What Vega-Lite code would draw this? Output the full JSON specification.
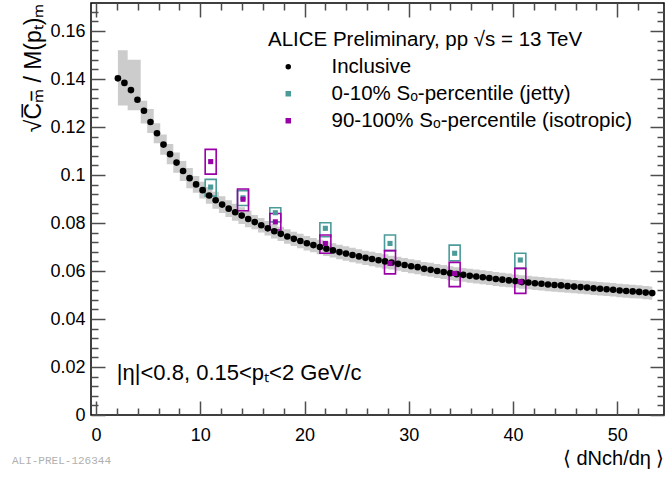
{
  "$schema": "https://vega.github.io/schema/vega-lite/v6.json",
  "width": 573,
  "height": 412,
  "autosize": {"type": "none"},
  "padding": {"left": 91, "top": 3, "right": 2, "bottom": 65},
  "background": "white",
  "config": {
    "font": "Liberation Sans",
    "view": {"stroke": "black", "strokeWidth": 1.5},
    "axis": {"grid": false, "labelFontSize": 18, "labelColor": "black", "titleFontWeight": "normal", "titleColor": "black", "titleFontSize": 20}
  },
  "title": {
    "text": "ALI-PREL-126344",
    "orient": "bottom",
    "anchor": "start",
    "font": "Liberation Mono",
    "fontSize": 11,
    "fontWeight": "normal",
    "color": "#b0b0b0",
    "offset": -13,
    "dx": -11
  },
  "datasets": {
    "incl": [
      {"x": 2.1, "y": 0.1403, "lo": 0.129, "hi": 0.152, "s": "Inclusive"},
      {"x": 2.725, "y": 0.1384, "lo": 0.129, "hi": 0.152, "s": "Inclusive"},
      {"x": 3.35, "y": 0.1354, "lo": 0.127, "hi": 0.148, "s": "Inclusive"},
      {"x": 3.975, "y": 0.1314, "lo": 0.127, "hi": 0.148, "s": "Inclusive"},
      {"x": 4.6, "y": 0.1268, "lo": 0.1215, "hi": 0.131, "s": "Inclusive"},
      {"x": 5.225, "y": 0.1221, "lo": 0.1175, "hi": 0.1275, "s": "Inclusive"},
      {"x": 5.85, "y": 0.1174, "lo": 0.1132, "hi": 0.1216, "s": "Inclusive"},
      {"x": 6.475, "y": 0.1127, "lo": 0.1085, "hi": 0.1169, "s": "Inclusive"},
      {"x": 7.1, "y": 0.1087, "lo": 0.1045, "hi": 0.1129, "s": "Inclusive"},
      {"x": 7.725, "y": 0.1052, "lo": 0.101, "hi": 0.1094, "s": "Inclusive"},
      {"x": 8.35, "y": 0.1017, "lo": 0.0975, "hi": 0.1059, "s": "Inclusive"},
      {"x": 8.975, "y": 0.0987, "lo": 0.0945, "hi": 0.1029, "s": "Inclusive"},
      {"x": 9.6, "y": 0.0961, "lo": 0.0926, "hi": 0.0996, "s": "Inclusive"},
      {"x": 10.225, "y": 0.0937, "lo": 0.0902, "hi": 0.0972, "s": "Inclusive"},
      {"x": 10.85, "y": 0.0915, "lo": 0.088, "hi": 0.095, "s": "Inclusive"},
      {"x": 11.475, "y": 0.0895, "lo": 0.086, "hi": 0.093, "s": "Inclusive"},
      {"x": 12.1, "y": 0.0877, "lo": 0.0842, "hi": 0.0912, "s": "Inclusive"},
      {"x": 12.725, "y": 0.086, "lo": 0.0825, "hi": 0.0895, "s": "Inclusive"},
      {"x": 13.35, "y": 0.0845, "lo": 0.081, "hi": 0.088, "s": "Inclusive"},
      {"x": 13.975, "y": 0.0831, "lo": 0.0796, "hi": 0.0866, "s": "Inclusive"},
      {"x": 14.6, "y": 0.0817, "lo": 0.0782, "hi": 0.0852, "s": "Inclusive"},
      {"x": 15.225, "y": 0.0804, "lo": 0.0774, "hi": 0.0834, "s": "Inclusive"},
      {"x": 15.85, "y": 0.0791, "lo": 0.0761, "hi": 0.0821, "s": "Inclusive"},
      {"x": 16.475, "y": 0.0778, "lo": 0.0748, "hi": 0.0808, "s": "Inclusive"},
      {"x": 17.1, "y": 0.0766, "lo": 0.0736, "hi": 0.0796, "s": "Inclusive"},
      {"x": 17.725, "y": 0.0755, "lo": 0.0725, "hi": 0.0785, "s": "Inclusive"},
      {"x": 18.35, "y": 0.0744, "lo": 0.0714, "hi": 0.0774, "s": "Inclusive"},
      {"x": 18.975, "y": 0.0734, "lo": 0.0704, "hi": 0.0764, "s": "Inclusive"},
      {"x": 19.6, "y": 0.0725, "lo": 0.0695, "hi": 0.0755, "s": "Inclusive"},
      {"x": 20.225, "y": 0.0716, "lo": 0.0686, "hi": 0.0746, "s": "Inclusive"},
      {"x": 20.85, "y": 0.0708, "lo": 0.0678, "hi": 0.0738, "s": "Inclusive"},
      {"x": 21.475, "y": 0.07, "lo": 0.067, "hi": 0.073, "s": "Inclusive"},
      {"x": 22.1, "y": 0.0693, "lo": 0.0663, "hi": 0.0723, "s": "Inclusive"},
      {"x": 22.725, "y": 0.0686, "lo": 0.0656, "hi": 0.0716, "s": "Inclusive"},
      {"x": 23.35, "y": 0.0679, "lo": 0.0649, "hi": 0.0709, "s": "Inclusive"},
      {"x": 23.975, "y": 0.0673, "lo": 0.0643, "hi": 0.0703, "s": "Inclusive"},
      {"x": 24.6, "y": 0.0667, "lo": 0.0637, "hi": 0.0697, "s": "Inclusive"},
      {"x": 25.225, "y": 0.0661, "lo": 0.0631, "hi": 0.0691, "s": "Inclusive"},
      {"x": 25.85, "y": 0.0655, "lo": 0.0625, "hi": 0.0685, "s": "Inclusive"},
      {"x": 26.475, "y": 0.065, "lo": 0.062, "hi": 0.068, "s": "Inclusive"},
      {"x": 27.1, "y": 0.0645, "lo": 0.0615, "hi": 0.0675, "s": "Inclusive"},
      {"x": 27.725, "y": 0.064, "lo": 0.061, "hi": 0.067, "s": "Inclusive"},
      {"x": 28.35, "y": 0.0635, "lo": 0.0606, "hi": 0.0664, "s": "Inclusive"},
      {"x": 28.975, "y": 0.063, "lo": 0.0601, "hi": 0.0659, "s": "Inclusive"},
      {"x": 29.6, "y": 0.0625, "lo": 0.0596, "hi": 0.0654, "s": "Inclusive"},
      {"x": 30.225, "y": 0.062, "lo": 0.0591, "hi": 0.0649, "s": "Inclusive"},
      {"x": 30.85, "y": 0.0616, "lo": 0.0587, "hi": 0.0645, "s": "Inclusive"},
      {"x": 31.475, "y": 0.0609, "lo": 0.058, "hi": 0.0638, "s": "Inclusive"},
      {"x": 32.1, "y": 0.0605, "lo": 0.0576, "hi": 0.0634, "s": "Inclusive"},
      {"x": 32.725, "y": 0.06, "lo": 0.0571, "hi": 0.0629, "s": "Inclusive"},
      {"x": 33.35, "y": 0.0596, "lo": 0.0567, "hi": 0.0625, "s": "Inclusive"},
      {"x": 33.975, "y": 0.0591, "lo": 0.0562, "hi": 0.062, "s": "Inclusive"},
      {"x": 34.6, "y": 0.0587, "lo": 0.0558, "hi": 0.0616, "s": "Inclusive"},
      {"x": 35.225, "y": 0.0584, "lo": 0.0555, "hi": 0.0613, "s": "Inclusive"},
      {"x": 35.85, "y": 0.058, "lo": 0.0551, "hi": 0.0609, "s": "Inclusive"},
      {"x": 36.475, "y": 0.0577, "lo": 0.0548, "hi": 0.0606, "s": "Inclusive"},
      {"x": 37.1, "y": 0.0574, "lo": 0.0545, "hi": 0.0603, "s": "Inclusive"},
      {"x": 37.725, "y": 0.0571, "lo": 0.0542, "hi": 0.06, "s": "Inclusive"},
      {"x": 38.35, "y": 0.0567, "lo": 0.0538, "hi": 0.0596, "s": "Inclusive"},
      {"x": 38.975, "y": 0.0564, "lo": 0.0535, "hi": 0.0593, "s": "Inclusive"},
      {"x": 39.6, "y": 0.0561, "lo": 0.0532, "hi": 0.059, "s": "Inclusive"},
      {"x": 40.225, "y": 0.0558, "lo": 0.053, "hi": 0.0586, "s": "Inclusive"},
      {"x": 40.85, "y": 0.0554, "lo": 0.0526, "hi": 0.0582, "s": "Inclusive"},
      {"x": 41.475, "y": 0.0552, "lo": 0.0524, "hi": 0.058, "s": "Inclusive"},
      {"x": 42.1, "y": 0.0549, "lo": 0.0521, "hi": 0.0577, "s": "Inclusive"},
      {"x": 42.725, "y": 0.0547, "lo": 0.0519, "hi": 0.0575, "s": "Inclusive"},
      {"x": 43.35, "y": 0.0544, "lo": 0.0516, "hi": 0.0572, "s": "Inclusive"},
      {"x": 43.975, "y": 0.0542, "lo": 0.0514, "hi": 0.057, "s": "Inclusive"},
      {"x": 44.6, "y": 0.054, "lo": 0.0512, "hi": 0.0568, "s": "Inclusive"},
      {"x": 45.225, "y": 0.0537, "lo": 0.0509, "hi": 0.0565, "s": "Inclusive"},
      {"x": 45.85, "y": 0.0535, "lo": 0.0507, "hi": 0.0563, "s": "Inclusive"},
      {"x": 46.475, "y": 0.0533, "lo": 0.0505, "hi": 0.0561, "s": "Inclusive"},
      {"x": 47.1, "y": 0.0531, "lo": 0.0503, "hi": 0.0559, "s": "Inclusive"},
      {"x": 47.725, "y": 0.0528, "lo": 0.05, "hi": 0.0556, "s": "Inclusive"},
      {"x": 48.35, "y": 0.0526, "lo": 0.0498, "hi": 0.0554, "s": "Inclusive"},
      {"x": 48.975, "y": 0.0524, "lo": 0.0496, "hi": 0.0552, "s": "Inclusive"},
      {"x": 49.6, "y": 0.0522, "lo": 0.0494, "hi": 0.055, "s": "Inclusive"},
      {"x": 50.225, "y": 0.0519, "lo": 0.0491, "hi": 0.0547, "s": "Inclusive"},
      {"x": 50.85, "y": 0.0517, "lo": 0.0489, "hi": 0.0545, "s": "Inclusive"},
      {"x": 51.475, "y": 0.0515, "lo": 0.0487, "hi": 0.0543, "s": "Inclusive"},
      {"x": 52.1, "y": 0.0513, "lo": 0.0485, "hi": 0.0541, "s": "Inclusive"},
      {"x": 52.725, "y": 0.051, "lo": 0.0482, "hi": 0.0538, "s": "Inclusive"},
      {"x": 53.35, "y": 0.0508, "lo": 0.048, "hi": 0.0536, "s": "Inclusive"}
    ],
    "so": [
      {"x": 11.0, "y": 0.095, "lo": 0.0912, "hi": 0.0982, "s": "0-10% Sₒ-percentile (jetty)"},
      {"x": 14.1, "y": 0.0905, "lo": 0.0873, "hi": 0.0935, "s": "0-10% Sₒ-percentile (jetty)"},
      {"x": 17.2, "y": 0.0843, "lo": 0.0805, "hi": 0.0864, "s": "0-10% Sₒ-percentile (jetty)"},
      {"x": 22.0, "y": 0.0778, "lo": 0.0743, "hi": 0.0801, "s": "0-10% Sₒ-percentile (jetty)"},
      {"x": 28.2, "y": 0.0715, "lo": 0.0685, "hi": 0.075, "s": "0-10% Sₒ-percentile (jetty)"},
      {"x": 34.4, "y": 0.0674, "lo": 0.0643, "hi": 0.0708, "s": "0-10% Sₒ-percentile (jetty)"},
      {"x": 40.7, "y": 0.0646, "lo": 0.0611, "hi": 0.0674, "s": "0-10% Sₒ-percentile (jetty)"},
      {"x": 11.0, "y": 0.1056, "lo": 0.1004, "hi": 0.1107, "s": "90-100% Sₒ-percentile (isotropic)"},
      {"x": 14.1, "y": 0.0899, "lo": 0.0851, "hi": 0.0942, "s": "90-100% Sₒ-percentile (isotropic)"},
      {"x": 17.2, "y": 0.0805, "lo": 0.0771, "hi": 0.084, "s": "90-100% Sₒ-percentile (isotropic)"},
      {"x": 22.0, "y": 0.0715, "lo": 0.0674, "hi": 0.075, "s": "90-100% Sₒ-percentile (isotropic)"},
      {"x": 28.2, "y": 0.0632, "lo": 0.0588, "hi": 0.0685, "s": "90-100% Sₒ-percentile (isotropic)"},
      {"x": 34.4, "y": 0.059, "lo": 0.0535, "hi": 0.0636, "s": "90-100% Sₒ-percentile (isotropic)"},
      {"x": 40.7, "y": 0.0555, "lo": 0.0507, "hi": 0.0611, "s": "90-100% Sₒ-percentile (isotropic)"}
    ]
  },
  "layer": [
    {
      "data": {"name": "incl"},
      "mark": {"type": "area", "interpolate": "step", "color": "#cccccc"},
      "encoding": {
        "x": {"field": "x", "type": "quantitative", "scale": {"domain": [0, 54], "nice": false, "zero": false},
          "axis": {"orient": "bottom", "values": [0, 10, 20, 30, 40, 50], "domain": false, "tickSize": -14, "tickColor": "#4d4d4d", "tickWidth": 1.5, "zindex": 5,
            "labelPadding": 25, "labelFlush": false, "labelFont": "Liberation Sans",
            "title": "⟨ dNch/dη ⟩", "titleFont": "Liberation Sans", "titleAnchor": "end", "titlePadding": 4}},
        "y": {"field": "lo", "type": "quantitative", "scale": {"domain": [0, 0.1717], "nice": false, "zero": false},
          "axis": {"orient": "left", "values": [0, 0.02, 0.04, 0.06, 0.08, 0.1, 0.12, 0.14, 0.16], "domain": false, "tickSize": -14, "tickColor": "#4d4d4d", "tickWidth": 1.5, "zindex": 5,
            "labelPadding": 20, "format": ".2~f", "labelFont": "Liberation Sans",
            "title": "√C̅ₘ̅ / M(pₜ)ₘ", "titleFont": "Liberation Sans", "titleAnchor": "end", "titlePadding": 4, "titleFontSize": 23}},
        "y2": {"field": "hi"}
      }
    },
    {
      "data": {"name": "so"},
      "mark": {"type": "bar", "width": 11, "fill": "transparent", "strokeWidth": 1.6},
      "encoding": {
        "x": {"field": "x", "type": "quantitative", "scale": {"domain": [0, 54], "nice": false, "zero": false},
          "axis": {"orient": "top", "values": [0, 10, 20, 30, 40, 50], "domain": false, "tickSize": -14, "tickColor": "#4d4d4d", "tickWidth": 1.5, "zindex": 5, "labels": false, "title": null}},
        "y": {"field": "lo", "type": "quantitative", "scale": {"domain": [0, 0.1717], "nice": false, "zero": false},
          "axis": {"orient": "right", "values": [0, 0.02, 0.04, 0.06, 0.08, 0.1, 0.12, 0.14, 0.16], "domain": false, "tickSize": -14, "tickColor": "#4d4d4d", "tickWidth": 1.5, "zindex": 5, "labels": false, "title": null}},
        "y2": {"field": "hi"},
        "stroke": {"field": "s", "type": "nominal", "legend": null,
          "scale": {"domain": ["0-10% Sₒ-percentile (jetty)", "90-100% Sₒ-percentile (isotropic)"], "range": ["#4b9b9b", "#9a00a8"]}}
      }
    },
    {
      "data": {"name": "incl"},
      "mark": {"type": "point", "filled": true, "opacity": 1, "size": 44},
      "encoding": {
        "x": {"field": "x", "type": "quantitative", "scale": {"domain": [0, 54], "nice": false, "zero": false},
          "axis": {"orient": "bottom", "values": [2, 4, 6, 8, 12, 14, 16, 18, 22, 24, 26, 28, 32, 34, 36, 38, 42, 44, 46, 48, 52], "domain": false, "tickSize": -7, "tickColor": "#4d4d4d", "tickWidth": 1.5, "zindex": 5, "labels": false, "title": null}},
        "y": {"field": "y", "type": "quantitative", "scale": {"domain": [0, 0.1717], "nice": false, "zero": false},
          "axis": {"orient": "left", "values": [0.004, 0.008, 0.012, 0.016, 0.024, 0.028, 0.032, 0.036, 0.044, 0.048, 0.052, 0.056, 0.064, 0.068, 0.072, 0.076, 0.084, 0.088, 0.092, 0.096, 0.104, 0.108, 0.112, 0.116, 0.124, 0.128, 0.132, 0.136, 0.144, 0.148, 0.152, 0.156, 0.164, 0.168], "domain": false, "tickSize": -7, "tickColor": "#4d4d4d", "tickWidth": 1.5, "zindex": 5, "labels": false, "title": null}},
        "color": {"field": "s", "type": "nominal",
          "scale": {"domain": ["Inclusive", "0-10% Sₒ-percentile (jetty)", "90-100% Sₒ-percentile (isotropic)"], "range": ["black", "#4b9b9b", "#9a00a8"]},
          "legend": {"title": "ALICE Preliminary, pp √s = 13 TeV", "orient": "none", "legendX": 177, "legendY": 27,
            "titleFontSize": 20.5, "titleFontWeight": "normal", "titleFont": "Liberation Sans", "titleColor": "black", "titleLimit": 500, "titlePadding": 6,
            "labelFontSize": 20.5, "labelFont": "Liberation Sans", "labelColor": "black", "labelLimit": 500,
            "symbolOffset": 10, "labelOffset": 33, "rowPadding": 6, "symbolSize": 30, "symbolStrokeWidth": 0}},
        "shape": {"field": "s", "type": "nominal",
          "scale": {"domain": ["Inclusive", "0-10% Sₒ-percentile (jetty)", "90-100% Sₒ-percentile (isotropic)"], "range": ["circle", "square", "square"]},
          "legend": {"title": "ALICE Preliminary, pp √s = 13 TeV", "orient": "none", "legendX": 177, "legendY": 27,
            "titleFontSize": 20.5, "titleFontWeight": "normal", "titleFont": "Liberation Sans", "titleColor": "black", "titleLimit": 500, "titlePadding": 6,
            "labelFontSize": 20.5, "labelFont": "Liberation Sans", "labelColor": "black", "labelLimit": 500,
            "symbolOffset": 10, "labelOffset": 33, "rowPadding": 6, "symbolSize": 30, "symbolStrokeWidth": 0}}
      }
    },
    {
      "data": {"name": "so"},
      "mark": {"type": "point", "filled": true, "opacity": 1, "size": 26},
      "encoding": {
        "x": {"field": "x", "type": "quantitative", "scale": {"domain": [0, 54], "nice": false, "zero": false},
          "axis": {"orient": "top", "values": [2, 4, 6, 8, 12, 14, 16, 18, 22, 24, 26, 28, 32, 34, 36, 38, 42, 44, 46, 48, 52], "domain": false, "tickSize": -7, "tickColor": "#4d4d4d", "tickWidth": 1.5, "zindex": 5, "labels": false, "title": null}},
        "y": {"field": "y", "type": "quantitative", "scale": {"domain": [0, 0.1717], "nice": false, "zero": false},
          "axis": {"orient": "right", "values": [0.004, 0.008, 0.012, 0.016, 0.024, 0.028, 0.032, 0.036, 0.044, 0.048, 0.052, 0.056, 0.064, 0.068, 0.072, 0.076, 0.084, 0.088, 0.092, 0.096, 0.104, 0.108, 0.112, 0.116, 0.124, 0.128, 0.132, 0.136, 0.144, 0.148, 0.152, 0.156, 0.164, 0.168], "domain": false, "tickSize": -7, "tickColor": "#4d4d4d", "tickWidth": 1.5, "zindex": 5, "labels": false, "title": null}},
        "color": {"field": "s", "type": "nominal",
          "scale": {"domain": ["Inclusive", "0-10% Sₒ-percentile (jetty)", "90-100% Sₒ-percentile (isotropic)"], "range": ["black", "#4b9b9b", "#9a00a8"]},
          "legend": {"title": "ALICE Preliminary, pp √s = 13 TeV", "orient": "none", "legendX": 177, "legendY": 27,
            "titleFontSize": 20.5, "titleFontWeight": "normal", "titleFont": "Liberation Sans", "titleColor": "black", "titleLimit": 500, "titlePadding": 6,
            "labelFontSize": 20.5, "labelFont": "Liberation Sans", "labelColor": "black", "labelLimit": 500,
            "symbolOffset": 10, "labelOffset": 33, "rowPadding": 6, "symbolSize": 30, "symbolStrokeWidth": 0}},
        "shape": {"field": "s", "type": "nominal",
          "scale": {"domain": ["Inclusive", "0-10% Sₒ-percentile (jetty)", "90-100% Sₒ-percentile (isotropic)"], "range": ["circle", "square", "square"]},
          "legend": {"title": "ALICE Preliminary, pp √s = 13 TeV", "orient": "none", "legendX": 177, "legendY": 27,
            "titleFontSize": 20.5, "titleFontWeight": "normal", "titleFont": "Liberation Sans", "titleColor": "black", "titleLimit": 500, "titlePadding": 6,
            "labelFontSize": 20.5, "labelFont": "Liberation Sans", "labelColor": "black", "labelLimit": 500,
            "symbolOffset": 10, "labelOffset": 33, "rowPadding": 6, "symbolSize": 30, "symbolStrokeWidth": 0}}
      }
    },
    {
      "data": {"values": [{}]},
      "mark": {"type": "text", "align": "left", "baseline": "middle", "fontSize": 22, "font": "Liberation Sans", "color": "black"},
      "encoding": {
        "x": {"datum": 2.0, "type": "quantitative", "axis": null},
        "y": {"datum": 0.0175, "type": "quantitative", "axis": null},
        "text": {"value": "|η|<0.8, 0.15<pₜ<2 GeV/c"}
      }
    }
  ],
  "resolve": {"axis": {"x": "independent", "y": "independent"}}
}
